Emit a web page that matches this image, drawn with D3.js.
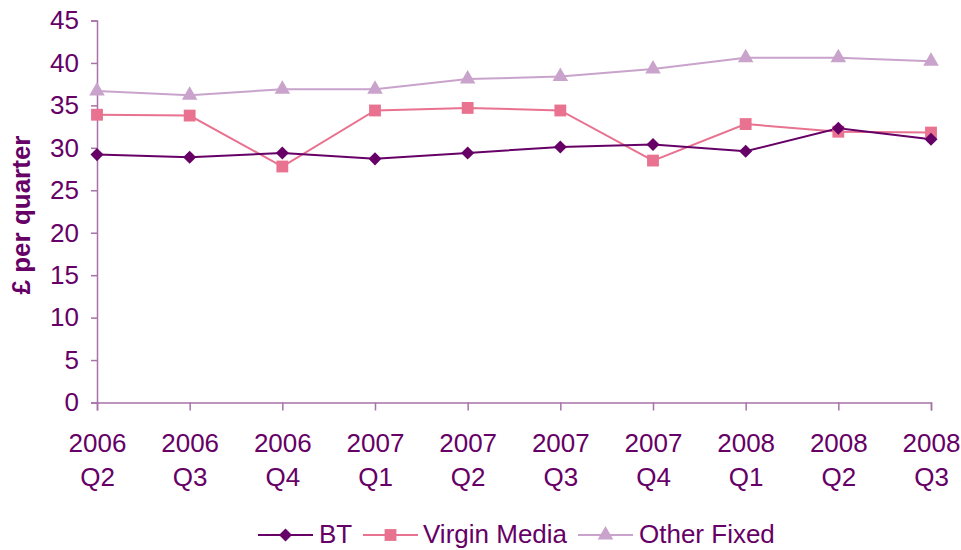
<!DOCTYPE html>
<html>
<head>
<meta charset="utf-8">
<script src="https://cdn.jsdelivr.net/npm/d3@7"></script>
<style>
  body { margin: 0; background: #fff; }
  text { font-family: "Liberation Sans", Arial, sans-serif; fill: #660066; }
</style>
</head>
<body>
<div id="chart"></div>
<script>
const quarters = ["2006 Q2", "2006 Q3", "2006 Q4", "2007 Q1", "2007 Q2", "2007 Q3", "2007 Q4", "2008 Q1", "2008 Q2", "2008 Q3"]
const bt = [29.2, 28.9, 29.4, 28.7, 29.4, 30.1, 30.4, 29.6, 32.3, 31.0]
const virgin = [33.9, 33.8, 27.8, 34.4, 34.7, 34.4, 28.5, 32.8, 31.9, 31.8]
const otherFixed = [36.7, 36.2, 36.9, 36.9, 38.1, 38.4, 39.3, 40.6, 40.6, 40.2]
const yTicks = [0, 5, 10, 15, 20, 25, 30, 35, 40, 45]

// diamond = square turned 45 degrees
const series = [
    { name: "BT", values: bt, color: "#660066", symbol: d3.symbolSquare, size: 85, rot: 45 },
    { name: "Virgin Media", values: virgin, color: "#e8728f", symbol: d3.symbolSquare, size: 140, rot: 0 },
    { name: "Other Fixed", values: otherFixed, color: "#c9a3cb", symbol: d3.symbolTriangle, size: 105, rot: 0 }
]

const width = 961, height = 550
const fontSize = 26
const svg = d3.select("#chart").append("svg")
    .attr("width", width)
    .attr("height", height)

const x = d3.scalePoint().domain(quarters).range([97, 931])
const y = d3.scaleLinear().domain([0, 45]).range([402.5, 20.5])
const axisColor = "#a772a7"

// y axis
const yAxis = svg.append("g")
    .attr("transform", "translate(97,0)")
    .call(d3.axisLeft(y).tickValues(yTicks).tickSize(6).tickPadding(12))
yAxis.select(".domain").attr("stroke", axisColor).attr("stroke-width", 1.5)
yAxis.selectAll(".tick line").attr("stroke", axisColor).attr("stroke-width", 1.5)
yAxis.selectAll(".tick text").attr("font-size", fontSize).style("fill", "#660066")

// x axis, two-line labels
const xAxis = svg.append("g")
    .attr("transform", "translate(0,402.5)")
    .call(d3.axisBottom(x).tickSize(8).tickFormat(""))
xAxis.select(".domain").attr("stroke", axisColor).attr("stroke-width", 1.5)
xAxis.selectAll(".tick line").attr("stroke", axisColor).attr("stroke-width", 1.5)
xAxis.selectAll(".tick").each(function (d) {
    const parts = d.split(" ")
    const t = d3.select(this).append("text")
        .attr("text-anchor", "middle")
        .attr("font-size", fontSize)
    t.append("tspan").attr("x", 0).attr("y", 49).text(parts[0])
    t.append("tspan").attr("x", 0).attr("y", 83).text(parts[1])
})

// y title
svg.append("text")
    .attr("transform", "translate(30,215) rotate(-90)")
    .attr("text-anchor", "middle")
    .attr("font-size", fontSize)
    .attr("font-weight", "bold")
    .text("£ per quarter")

const marker = s => d3.symbol().type(s.symbol).size(s.size)

// lines
const line = d3.line()
    .x((d, i) => x(quarters[i]))
    .y(d => y(d))

const order = [series[2], series[1], series[0]]
order.forEach(s => {
    svg.append("path")
        .datum(s.values)
        .attr("d", line)
        .attr("fill", "none")
        .attr("stroke", s.color)
        .attr("stroke-width", 2)
})
order.forEach(s => {
    svg.append("g").selectAll("path")
        .data(s.values)
        .enter()
        .append("path")
        .attr("d", marker(s))
        .attr("transform", (d, i) => "translate(" + x(quarters[i]) + "," + y(d) + ") rotate(" + s.rot + ")")
        .attr("fill", s.color)
})

// legend
const legendItems = [
    { s: series[0], x0: 258, x1: 313, tx: 319 },
    { s: series[1], x0: 363, x1: 418, tx: 423 },
    { s: series[2], x0: 578, x1: 633, tx: 639 }
]
const ly = 535
legendItems.forEach(item => {
    const g = svg.append("g")
    g.append("line")
        .attr("x1", item.x0).attr("x2", item.x1)
        .attr("y1", ly).attr("y2", ly)
        .attr("stroke", item.s.color)
        .attr("stroke-width", 2)
    g.append("path")
        .attr("d", marker(item.s))
        .attr("transform", "translate(" + (item.x0 + item.x1) / 2 + "," + ly + ") rotate(" + item.s.rot + ")")
        .attr("fill", item.s.color)
    g.append("text")
        .attr("x", item.tx)
        .attr("y", ly + 8)
        .attr("font-size", fontSize)
        .text(item.s.name)
})
</script>
</body>
</html>
